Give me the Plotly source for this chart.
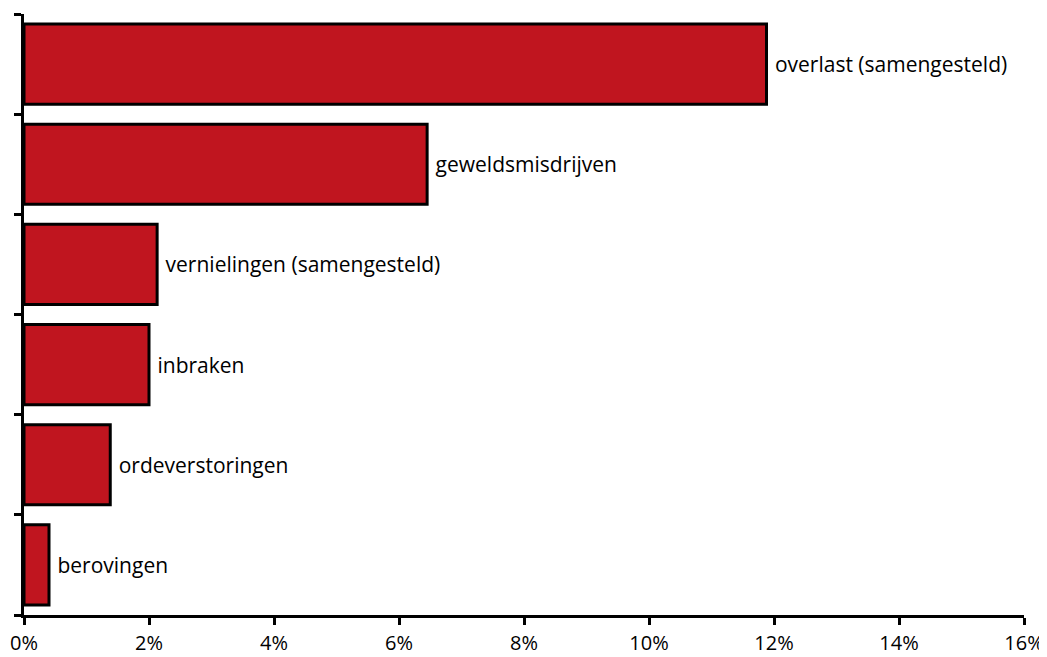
import plotly.graph_objects as go

categories = ["berovingen", "ordeverstoringen", "inbraken", "vernielingen (samengesteld)", "geweldsmisdrijven", "overlast (samengesteld)"]
values = [0.40, 1.38, 2.00, 2.13, 6.45, 11.88]
x_ticks = [0, 2, 4, 6, 8, 10, 12, 14, 16]
x_tick_labels = [f"{t}%" for t in x_ticks]

FONT = "Open Sans, sans-serif"

fig = go.Figure(go.Bar(
    y=categories,
    x=values,
    orientation="h",
    marker=dict(color="#C0151F", line=dict(color="black", width=3)),
    texttemplate=" %{y}",
    textposition="outside",
    constraintext="none",
    textfont=dict(family=FONT, size=21, color="black"),
    cliponaxis=False,
    width=0.8,
))

# The page body has an 8px default margin, so the figure is sized/margined to compensate.
fig.update_layout(
    width=1039, height=649,
    margin=dict(l=16, r=23, t=6, b=42),
    plot_bgcolor="white", paper_bgcolor="white",
    showlegend=False,
    xaxis=dict(
        range=[0, 16], tickvals=x_ticks, ticktext=x_tick_labels,
        automargin=False,
        showgrid=False, zeroline=False,
        showline=True, linecolor="black", linewidth=3,
        ticks="outside", ticklen=7, tickwidth=3, tickcolor="black",
        ticklabelstandoff=1,
        tickfont=dict(family=FONT, size=20, color="black"),
    ),
    yaxis=dict(
        automargin=False,
        showgrid=False, zeroline=False, showticklabels=False,
        showline=True, linecolor="black", linewidth=3,
        ticks="outside", ticklen=7, tickwidth=3, tickcolor="black",
        tickson="boundaries",
        range=[-0.5, 5.5],
    ),
)

fig.write_html("out.html")
